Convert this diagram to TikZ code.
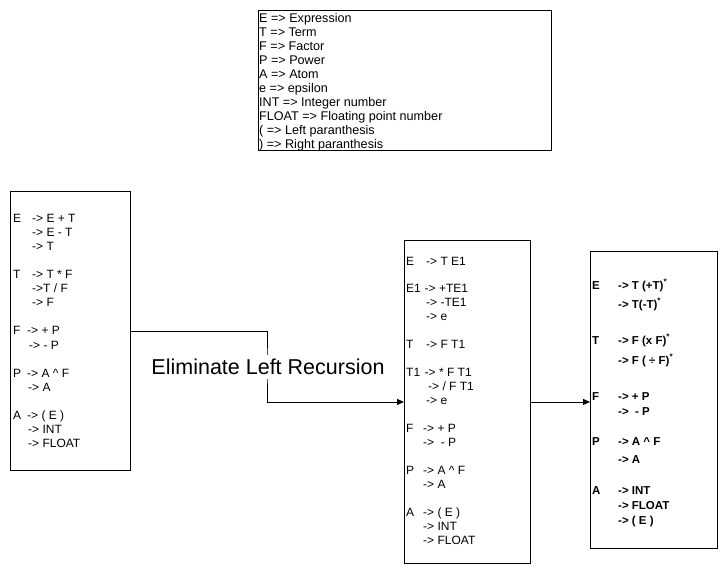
\documentclass[tikz,border=0pt]{standalone}
\usepackage{fontspec}
\setmainfont{Liberation Sans}
\usetikzlibrary{arrows.meta}
\begin{document}
\begin{tikzpicture}[x=1pt,y=-1pt,
  box/.style={draw=black,line width=0.9pt,fill=white,anchor=north west,inner sep=0pt},
  txt/.style={anchor=base west,inner sep=0pt,font=\fontsize{12}{13}\selectfont},
  btxt/.style={anchor=base west,inner sep=0pt,font=\fontsize{11.5}{13}\selectfont\bfseries},
  leg/.style={anchor=base west,inner sep=0pt,font=\fontsize{12.6}{14}\selectfont},
  conn/.style={draw=black,line width=0.9pt},
  tip/.style={-{Triangle[length=7pt,width=6pt]}}
]
\useasboundingbox[fill=white] (0,0) rectangle (727,571);

% boxes
\node[box,minimum width=293pt,minimum height=140pt] (legend) at (258,10) {};
\node[box,minimum width=120pt,minimum height=279pt] (left) at (10,191) {};
\node[box,minimum width=126pt,minimum height=323pt] (mid) at (404,240) {};
\node[box,minimum width=127pt,minimum height=297pt] (right) at (590,251) {};

% legend
\foreach \lt [count=\i] in {{E => Expression},{T => Term},{F => Factor},{P => Power},{A => Atom},{e => epsilon},{INT => Integer number},{FLOAT => Floating point number},{( => Left paranthesis},{) => Right paranthesis}}
  \node[leg] (leg\i) at (259,{18+14*(\i-1)+4.5}) {\lt};

% left grammar
\foreach \yy/\px/\lab/\prod [count=\i] in {
  218/32/E/{-> E + T},
  232.1/32/{}/{-> E - T},
  246.2/32/{}/{-> T},
  274.3/32/T/{-> T * F},
  288.4/32/{}/{->T / F},
  302.5/32/{}/{-> F},
  330.6/27/F/{-> + P},
  344.7/29/{}/{-> - P},
  372.8/27/P/{-> A \textasciicircum{} F},
  386.9/28/{}/{-> A},
  415/27/A/{-> ( E )},
  429/28/{}/{-> INT},
  443.1/28/{}/{-> FLOAT}}
{
  \node[txt] (ll\i) at (13,\yy+4.3) {\lab};
  \node[txt] (lp\i) at (\px,\yy+4.3) {\prod};
}

% middle grammar
\foreach \yy/\px/\lab/\prod [count=\i] in {
  261/426/E/{-> T E1},
  288/424.5/E1/{-> +TE1},
  302/426/{}/{-> -TE1},
  316/426/{}/{-> e},
  344/426/T/{-> F T1},
  372/424.5/T1/{-> * F T1},
  386/428/{}/{-> / F T1},
  400/426/{}/{-> e},
  428/423/F/{-> + P},
  442/423/{}/{->\ \ - P},
  470/423/P/{-> A \textasciicircum{} F},
  484/423/{}/{-> A},
  512/423/A/{-> ( E )},
  526/423/{}/{-> INT},
  540/423/{}/{-> FLOAT}}
{
  \node[txt] (ml\i) at (406,\yy+4.3) {\lab};
  \node[txt] (mp\i) at (\px,\yy+4.3) {\prod};
}

% right grammar
\foreach \yy/\lab/\prod [count=\i] in {
  285/E/{-> T (+T)\textsuperscript{*}},
  304/{}/{-> T(-T)\textsuperscript{*}},
  340/T/{-> F (x F)\textsuperscript{*}},
  360/{}/{-> F ( ÷ F)\textsuperscript{*}},
  396/F/{-> + P},
  411/{}/{->\ \ - P},
  441/P/{-> A \textasciicircum{} F},
  459/{}/{-> A},
  490/A/{-> INT},
  505/{}/{-> FLOAT},
  520/{}/{-> ( E )}}
{
  \node[btxt] (rl\i) at (592,\yy+4.1) {\lab};
  \node[btxt] (rp\i) at (618,\yy+4.1) {\prod};
}

% connectors
\coordinate (bend) at (267,365);
\draw[conn,tip] (left.east) -| (bend) |- (mid.west);
\node[fill=white,inner xsep=1pt,inner ysep=4pt,font=\fontsize{21.5}{24}\selectfont] (elim) at (268,367) {Eliminate Left Recursion};
\draw[conn,tip] (mid.east) -- (mid.east -| right.west);
\end{tikzpicture}
\end{document}
